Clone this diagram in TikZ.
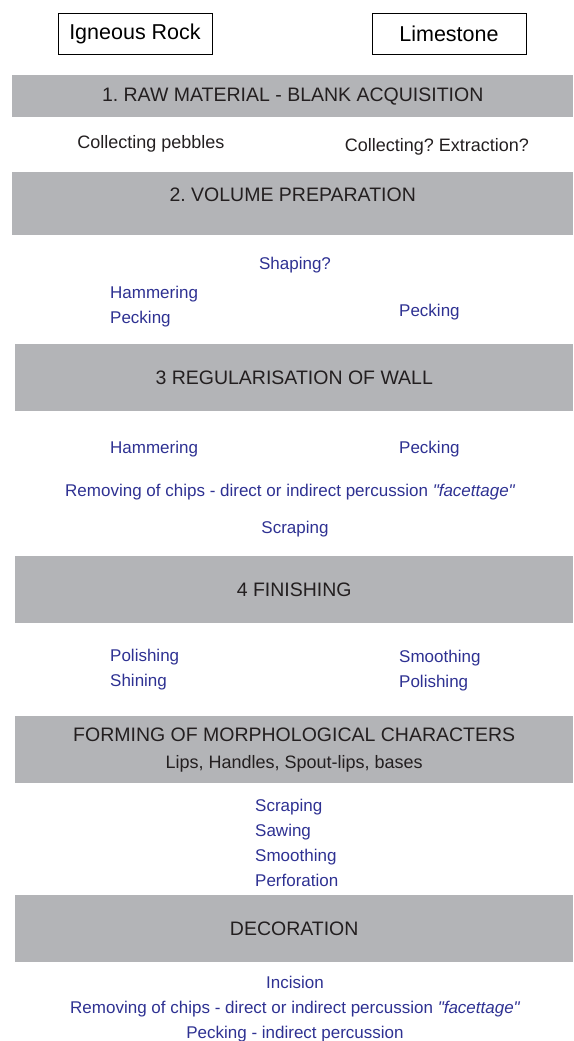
\documentclass[tikz,border=0pt]{standalone}
\usepackage{fontspec}
\setmainfont{Liberation Sans}
\setsansfont{Liberation Sans}
\newfontfamily\plainfont{Liberation Sans}
\usepackage{xcolor}
\usetikzlibrary{positioning}

\definecolor{barGray}{HTML}{B3B4B7}
\definecolor{techBlue}{HTML}{2E3192}
\definecolor{inkDark}{HTML}{231F20}
\newcommand{\facet}{{\plainfont\itshape "facettage"}}
\frenchspacing

\begin{document}
\begin{tikzpicture}[
  x=1pt, y=-1pt,
  font=\sffamily,
  rock/.style={draw=black, line width=0.9pt, minimum width=154pt,
    minimum height=41pt, inner sep=0pt,
    font=\sffamily\fontsize{21.5}{24}\selectfont},
  bar/.style={fill=barGray, anchor=north west, inner sep=0pt,
    minimum width=558pt, minimum height=67pt, align=center, text=inkDark,
    font=\sffamily\fontsize{19.5}{27}\selectfont},
  note/.style={text=inkDark, inner sep=0pt,
    font=\sffamily\fontsize{18}{22}\selectfont},
  tech/.style={text=techBlue, align=left, inner sep=0pt,
    font=\sffamily\fontsize{17}{25}\selectfont},
]
  \useasboundingbox (0,0) rectangle (573,1041);

  % raw materials
  \node[rock] (igneous) at (135,33.5) {Igneous Rock};
  \node[rock] (lime) at (449,33.5) {Limestone};

  % 1
  \node[bar, minimum width=561pt, minimum height=42pt] (raw) at (12,75)
    {1. RAW MATERIAL - BLANK ACQUISITION};
  \node[note] (pebbles) at (151,144) {Collecting pebbles};
  \node[note] (extract) at (437,147) {Collecting? Extraction?};

  % 2
  \node[bar, minimum width=561pt, minimum height=63pt, text depth=19pt]
    (volume) at (12,172) {2. VOLUME PREPARATION};
  \node[tech] (shaping) at (295,265) {Shaping?};
  \node[tech, anchor=west] (volIgn) at (110,306.5) {Hammering\\Pecking};
  \node[tech, anchor=west] (volLime) at (399,312) {Pecking};

  % 3
  \node[bar] (wall) at (15,344) {3 REGULARISATION OF WALL};
  \node[tech, anchor=west] (wallIgn) at (110,449) {Hammering};
  \node[tech, anchor=west] (wallLime) at (399,449) {Pecking};
  \node[tech] (chips) at (290,492)
    {Removing of chips - direct or indirect percussion \facet};
  \node[tech] (scraping) at (295,529) {Scraping};

  % 4
  \node[bar] (finish) at (15,556) {4 FINISHING};
  \node[tech, anchor=west] (finIgn) at (110,670) {Polishing\\Shining};
  \node[tech, anchor=west] (finLime) at (399,670.5) {Smoothing\\Polishing};

  % morphology
  \node[bar] (morph) at (15,716) {FORMING OF MORPHOLOGICAL CHARACTERS\\
    {\fontsize{18}{22}\selectfont Lips, Handles, Spout-lips, bases}};
  \node[tech, anchor=west] (morphTech) at (255,842.5)
    {Scraping\\Sawing\\Smoothing\\Perforation};

  % decoration
  \node[bar] (deco) at (15,895) {DECORATION};
  \node[tech, align=center] (decoTech) at (295,1009)
    {Incision\\Removing of chips - direct or indirect percussion \facet\\
     Pecking - indirect percussion};
\end{tikzpicture}
\end{document}
